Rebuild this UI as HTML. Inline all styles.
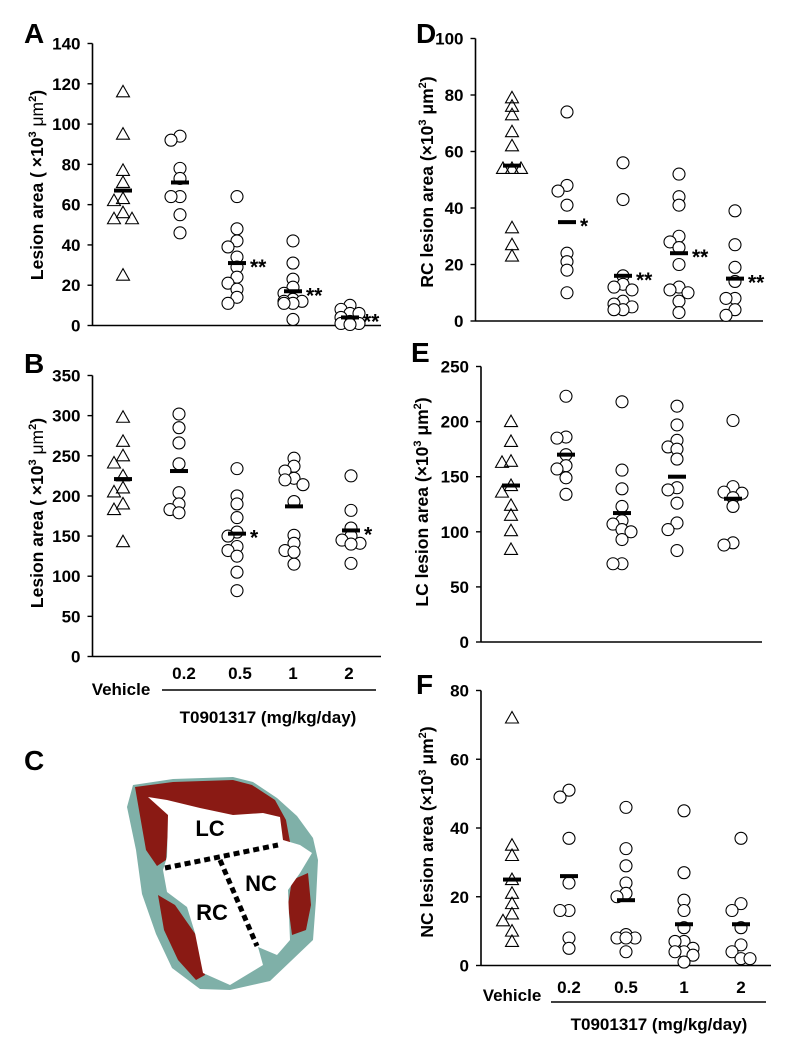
<!DOCTYPE html>
<html><head><meta charset="utf-8"><style>
html,body{margin:0;padding:0;background:#fff;}
svg{display:block;font-family:"Liberation Sans",Arial,sans-serif;}
</style></head><body>
<svg id="fig" width="788" height="1050" viewBox="0 0 788 1050" xmlns="http://www.w3.org/2000/svg">
<rect width="788" height="1050" fill="#fff"/>
<text x="24" y="43" font-size="28" font-weight="bold">A</text>
<text x="24" y="373" font-size="28" font-weight="bold">B</text>
<text x="24" y="770" font-size="28" font-weight="bold">C</text>
<text x="416" y="43" font-size="28" font-weight="bold">D</text>
<text x="411" y="362" font-size="28" font-weight="bold">E</text>
<text x="416" y="694" font-size="28" font-weight="bold">F</text>

<g>
<polygon fill="#7fb0a8" points="133,785 173,779 233,777 253,782 277,798 297,816 313,838 318,860 316,900 313,940 291,961 270,981 230,990 200,989 172,968 156,934 142,894 136,850 127,807"/>
<polygon fill="#8a1a14" points="135,787 173,782 233,780 252,785 275,800 286,820 290,842 283,843 264,830 230,826 200,822 168,830 166,860 157,866 146,850 139,810"/>
<polygon fill="#8a1a14" points="158,895 175,905 196,935 205,975 196,980 178,960 164,930"/>
<polygon fill="#8a1a14" points="292,880 308,873 311,905 306,930 292,935 288,905"/>
<polygon fill="#fff" points="148,797 168,815 167,857 163,870 167,892 187,907 195,933 203,973 230,985 263,965 258,947 277,955 290,940 288,890 300,873 312,853 300,845 283,840 280,817 263,813 233,815 200,808 167,800"/>
<line x1="165" y1="868" x2="278" y2="845" stroke="#000" stroke-width="5" stroke-dasharray="6,4"/>
<line x1="220" y1="860" x2="257" y2="946" stroke="#000" stroke-width="5" stroke-dasharray="6,4"/>
<text x="210" y="836" font-size="22" font-weight="bold" text-anchor="middle">LC</text>
<text x="261" y="891" font-size="22" font-weight="bold" text-anchor="middle">NC</text>
<text x="212" y="920" font-size="22" font-weight="bold" text-anchor="middle">RC</text>
</g>
<g id="charts"></g>
</svg>
<script>
const categories = ['Vehicle','0.2','0.5','1','2'];
const aValues = [
 [116,95,77,71,63,62,56,53,53,25],
 [94,92,78,73,64,64,55,46],
 [64,48,42,39,34,29,24,21,18,14,11],
 [42,31,23,19,16,13,12,11,11,12,3],
 [10,8,6,6,4,2,1,1,0.5]
];
const aMeans = [67,71,31,17,4];
const aStars = ['','','**','**','**'];
const aTicks = [0,20,40,60,80,100,120,140];
const bValues = [
 [298,268,250,241,225,210,205,190,183,143],
 [302,285,266,240,204,190,183,179],
 [234,200,190,173,155,150,137,132,125,105,82],
 [247,237,231,222,220,214,193,151,141,132,130,115],
 [225,182,160,150,145,141,140,116]
];
const bMeans = [221,231,153,187,157];
const bStars = ['','','*','','*'];
const bTicks = [0,50,100,150,200,250,300,350];
const dValues = [
 [79,76,73,67,62,54,54,54,33,27,23],
 [74,48,46,41,24,21,18,10],
 [56,43,16,13,12,11,7,6,5,4,4],
 [52,44,41,30,28,26,20,12,11,10,7,3],
 [39,27,19,14,8,8,4,2]
];
const dMeans = [55,35,16,24,15];
const dStars = ['','*','**','**','**'];
const dTicks = [0,20,40,60,80,100];
const eValues = [
 [200,182,164,163,142,136,124,115,101,84],
 [223,186,185,170,160,157,149,134],
 [218,156,139,123,110,107,102,100,93,71,71],
 [214,197,183,177,175,166,140,138,126,108,102,83],
 [201,141,136,135,131,123,90,88]
];
const eMeans = [142,170,117,150,130];
const eStars = ['','','','',''];
const eTicks = [0,50,100,150,200,250];
const fValues = [
 [72,35,32,25,21,18,15,13,10,7],
 [51,49,37,24,16,16,8,5],
 [46,34,29,24,21,20,9,8,8,8,4],
 [45,27,19,16,11,7,7,5,4,4,3,1],
 [37,18,16,11,6,4,2,2]
];
const fMeans = [25,26,19,12,12];
const fStars = ['','','','',''];
const fTicks = [0,20,40,60,80];

const NS='http://www.w3.org/2000/svg';
const root=document.getElementById('charts');
function mk(tag,attrs,parent){const e=document.createElementNS(NS,tag);for(const k in attrs)e.setAttribute(k,attrs[k]);(parent||root).appendChild(e);return e;}

function panel(p,values,means,stars,ticks,geo){
  const g=mk('g',{});
  
  
  const max=ticks[ticks.length-1];
  const y=v=>geo.y0-(v/max)*(geo.y0-geo.yTop);
  const x=i=>geo.cx[i];
  const ax=mk('line',{x1:geo.xa,y1:geo.yTop,x2:geo.xa,y2:geo.y0,stroke:'#000','stroke-width':1.6},g);
  
  
  const bx=mk('line',{x1:geo.xa,y1:geo.y0,x2:geo.xEnd,y2:geo.y0,stroke:'#000','stroke-width':1.6},g);
  
  
  ticks.forEach(t=>{
    mk('line',{x1:geo.xa-5,y1:y(t),x2:geo.xa,y2:y(t),stroke:'#000','stroke-width':1.4},g);
    const tl=mk('text',{x:geo.xa-12,y:y(t)+6,'font-size':17,'font-weight':'bold','text-anchor':'end'},g);
    
    
    tl.textContent=t;
  });
  const tt=mk('text',{transform:`translate(${geo.titleX},${geo.titleY}) rotate(-90)`,'font-size':17.5,'font-weight':'bold','text-anchor':'middle'},g);
  
  
  tt.innerHTML=geo.title;
  values.forEach((vals,i)=>{
    const placed=[];
    const sorted=vals.slice().sort((a,b)=>b-a);
    sorted.forEach(v=>{
      const py=y(v);
      const offs=[0,-9,9];
      let best=x(i),bestD=-1;
      for(const o of offs){
        const cx=x(i)+o;
        const d=placed.length?Math.min(...placed.map(q=>Math.hypot(q[0]-cx,q[1]-py))):99;
        if(d>=8){best=cx;bestD=d;break;}
        if(d>bestD){bestD=d;best=cx;}
      }
      const px=best;
      placed.push([px,py]);
      let m;
      if(i===0){m=mk('polygon',{points:`${px},${py-6.5} ${px-6.5},${py+5} ${px+6.5},${py+5}`,fill:'none',stroke:'#000','stroke-width':1.1},g);}
      else{m=mk('circle',{cx:px,cy:py,r:6,fill:'#fff',stroke:'#000','stroke-width':1.1},g);}
      
      
    });
    const mb=mk('rect',{x:x(i)-9,y:y(means[i])-2,width:18,height:4,fill:'#000'},g);
    
    
    if(stars[i]){
      const st=mk('text',{x:x(i)+13,y:y(means[i])+11,'font-size':21,'font-weight':'bold'},g);
      
      
      st.textContent=stars[i];
    }
  });
  if(geo.xlab){
    const L=geo.xlab;
    categories.forEach((c,i)=>{
      if(i===0)return;
      const t=mk('text',{x:L.cx[i],y:L.y,'font-size':17,'font-weight':'bold','text-anchor':'middle'},g);
      
      
      t.textContent=c;
    });
    const v=mk('text',{x:L.vx,y:L.vy,'font-size':17,'font-weight':'bold','text-anchor':'middle'},g);
    
    
    v.textContent=categories[0];
    mk('line',{x1:L.u1,y1:L.uy,x2:L.u2,y2:L.uy,stroke:'#000','stroke-width':1.4},g);
    const dl=mk('text',{x:L.dx,y:L.dy,'font-size':17,'font-weight':'bold','text-anchor':'middle'},g);
    
    
    dl.textContent='T0901317 (mg/kg/day)';
  }
}
const u='(<tspan>×10</tspan><tspan dy="-7" font-size="11">3</tspan><tspan dy="7"> μm</tspan><tspan dy="-7" font-size="11">2</tspan><tspan dy="7">)</tspan>';
const uA='( <tspan>×10</tspan><tspan dy="-7" font-size="11">3</tspan><tspan dy="7" font-weight="normal"> μm</tspan><tspan dy="-7" font-size="11">2</tspan><tspan dy="7">)</tspan>';
panel('a',aValues,aMeans,aStars,aTicks,{xa:92.5,yTop:43.5,y0:325.5,xEnd:381,cx:[123,180,237,293,350],titleX:43,titleY:185,title:'Lesion area '+uA});
panel('b',bValues,bMeans,bStars,bTicks,{xa:92.5,yTop:375.5,y0:656.5,xEnd:381,cx:[123,179,237,294,351],titleX:43,titleY:513,title:'Lesion area '+uA,
 xlab:{cx:[0,184,240,293,349],y:679,vx:121,vy:695,u1:162,u2:376,uy:690,dx:268,dy:723}});
panel('d',dValues,dMeans,dStars,dTicks,{xa:475.5,yTop:38.5,y0:321,xEnd:763,cx:[512,567,623,679,735],titleX:433,titleY:182,title:'RC lesion area '+u});
panel('e',eValues,eMeans,eStars,eTicks,{xa:481,yTop:366.5,y0:642,xEnd:762,cx:[511,566,622,677,733],titleX:428,titleY:502,title:'LC lesion area '+u});
panel('f',fValues,fMeans,fStars,fTicks,{xa:481,yTop:690.5,y0:965.5,xEnd:771,cx:[512,569,626,684,741],titleX:433,titleY:832,title:'NC lesion area '+u,
 xlab:{cx:[0,569,626,684,741],y:993,vx:512,vy:1001,u1:551,u2:766,uy:1002,dx:659,dy:1030}});
</script>
</body></html>
